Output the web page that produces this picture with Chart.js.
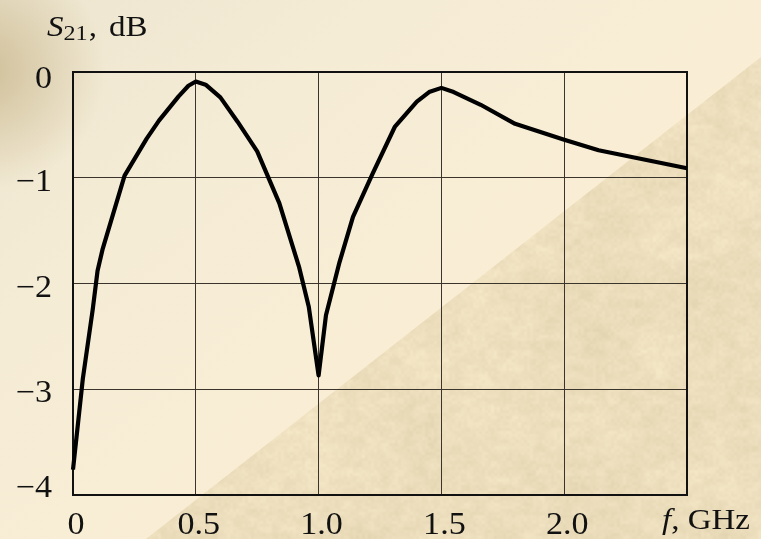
<!DOCTYPE html>
<html>
<head>
<meta charset="utf-8">
<script src="https://cdn.jsdelivr.net/npm/chart.js@4.4.1/dist/chart.umd.min.js"></script>
<style>
  html, body { margin: 0; padding: 0; overflow: hidden; background: #f6ecd3; }
  canvas { display: block; }
</style>
</head>
<body>
<canvas id="chart" width="761" height="539"></canvas>
<script>
// Transmission coefficient S21 of the filter versus frequency
const freqGHz = [0, 0.04, 0.08, 0.10, 0.12, 0.21, 0.30, 0.35, 0.43, 0.47, 0.50, 0.54, 0.60, 0.67, 0.75,
                 0.84, 0.92, 0.96, 1.00, 1.03, 1.085, 1.14, 1.22, 1.31, 1.40, 1.45, 1.50, 1.55, 1.66,
                 1.80, 2.00, 2.14, 2.50];
const s21dB   = [-3.76, -2.90, -2.25, -1.88, -1.68, -0.98, -0.63, -0.46, -0.23, -0.13, -0.09, -0.12, -0.24, -0.47, -0.75,
                 -1.24, -1.84, -2.22, -2.87, -2.30, -1.80, -1.37, -0.96, -0.52, -0.28, -0.19, -0.15, -0.19, -0.31,
                 -0.49, -0.64, -0.74, -0.91];

const xGridValues = [0, 0.5, 1.0, 1.5, 2.0, 2.5];
const xTickValues = [0, 0.5, 1.0, 1.5, 2.0];
const xTickLabels = ['0', '0.5', '1.0', '1.5', '2.0'];
const yTickValues = [0, -1, -2, -3, -4];
const yTickLabels = ['0', '\u22121', '\u22122', '\u22123', '\u22124'];

const SERIF = '"Liberation Serif", "Times New Roman", Times, serif';
const INK = '#111';
const STRETCH = 1.1;

// ---- parchment texture (deterministic value noise) ----
function hash(i, j) {
  const s = Math.sin(i * 127.1 + j * 311.7) * 43758.5453;
  return s - Math.floor(s);
}
function vnoise(x, y) {
  const i = Math.floor(x), j = Math.floor(y);
  const fx = x - i, fy = y - j;
  const ux = fx * fx * (3 - 2 * fx), uy = fy * fy * (3 - 2 * fy);
  const a = hash(i, j), b = hash(i + 1, j), c = hash(i, j + 1), d = hash(i + 1, j + 1);
  return a + (b - a) * ux + (c - a) * uy + (a - b - c + d) * ux * uy;
}
function makeParchment(w, h) {
  const cv = document.createElement('canvas');
  cv.width = w; cv.height = h;
  const cx = cv.getContext('2d');
  const img = cx.createImageData(w, h);
  for (let y = 0; y < h; y++) {
    for (let x = 0; x < w; x++) {
      const n = 0.35 * vnoise(x / 60, y / 60) + 0.35 * vnoise(x / 12 + 7, y / 8 + 3) + 0.3 * vnoise(x / 3 + 11, y / 3 + 5);
      const t = (n - 0.5);
      const k = (y * w + x) * 4;
      img.data[k]     = 236 + t * 22;
      img.data[k + 1] = 222 + t * 24;
      img.data[k + 2] = 188 + t * 28;
      img.data[k + 3] = 255;
    }
  }
  cx.putImageData(img, 0, 0);
  return cv;
}

const backdrop = {
  id: 'backdrop',
  beforeDraw(chart) {
    const { ctx, width, height } = chart;
    ctx.save();
    const lg = ctx.createLinearGradient(0, 0, width * 0.6, height);
    lg.addColorStop(0, '#ede5cf');
    lg.addColorStop(0.35, '#f5ecd6');
    lg.addColorStop(1, '#fcefd4');
    ctx.fillStyle = lg;
    ctx.fillRect(0, 0, width, height);
    const rg = ctx.createRadialGradient(-15, 70, 0, -15, 70, 120);
    rg.addColorStop(0, 'rgba(200,182,140,0.8)');
    rg.addColorStop(1, 'rgba(200,182,140,0)');
    ctx.fillStyle = rg;
    ctx.fillRect(0, 0, width, height);
    // lower-right parchment triangle
    if (!this.tex) this.tex = makeParchment(width, height);
    ctx.beginPath();
    ctx.moveTo(146, height);
    ctx.lineTo(width, 57);
    ctx.lineTo(width, height);
    ctx.closePath();
    ctx.clip();
    ctx.drawImage(this.tex, 0, 0);
    ctx.restore();
  }
};

const frame = {
  id: 'frame',
  beforeDatasetsDraw(chart) {
    const { ctx, chartArea: a } = chart;
    ctx.save();
    ctx.strokeStyle = '#111';
    ctx.lineWidth = 2;
    ctx.strokeRect(a.left, a.top, a.right - a.left, a.bottom - a.top);
    ctx.restore();
  }
};

function stretchedText(ctx, text, x, y, align) {
  const w = ctx.measureText(text).width * STRETCH;
  let x0 = x;
  if (align === 'right') x0 = x - w;
  else if (align === 'center') x0 = x - w / 2;
  ctx.save();
  ctx.translate(x0, y);
  ctx.scale(STRETCH, 1);
  ctx.textAlign = 'left';
  ctx.fillText(text, 0, 0);
  ctx.restore();
  return w;
}

const axisText = {
  id: 'axisText',
  afterDraw(chart) {
    const { ctx, scales: { x, y } } = chart;
    ctx.save();
    ctx.fillStyle = INK;
    ctx.textBaseline = 'middle';
    ctx.font = '31px ' + SERIF;
    yTickValues.forEach((v, i) => {
      let off = 5;
      if (v === y.max) off = 8;
      if (v === y.min) off = -6;
      stretchedText(ctx, yTickLabels[i], 52, y.getPixelForValue(v) + off, 'right');
    });
    ctx.textBaseline = 'alphabetic';
    xTickValues.forEach((v, i) => {
      stretchedText(ctx, xTickLabels[i], x.getPixelForValue(v) + 3, 534, 'center');
    });
    // x-axis name: f, GHz
    ctx.font = 'italic 30px ' + SERIF;
    let px = 662;
    px += stretchedText(ctx, 'f', px, 529, 'left');
    ctx.font = '30px ' + SERIF;
    stretchedText(ctx, ', GHz', px, 529, 'left');
    // y-axis name: S21, dB
    ctx.font = 'italic 30px ' + SERIF;
    px = 47;
    px += stretchedText(ctx, 'S', px, 36, 'left');
    ctx.font = '22px ' + SERIF;
    px += stretchedText(ctx, '21', px, 40, 'left');
    ctx.font = '30px ' + SERIF;
    px += stretchedText(ctx, ',', px + 1, 36, 'left');
    stretchedText(ctx, 'dB', px + 13, 36, 'left');
    ctx.restore();
  }
};

new Chart(document.getElementById('chart'), {
  type: 'line',
  data: {
    datasets: [{
      data: freqGHz.map((f, i) => ({ x: f, y: s21dB[i] })),
      borderColor: '#000',
      borderWidth: 4.2,
      pointRadius: 0,
      tension: 0,
      borderJoinStyle: 'round',
      borderCapStyle: 'butt',
      clip: false
    }]
  },
  options: {
    responsive: false,
    animation: false,
    devicePixelRatio: 1,
    layout: { padding: { left: 73, top: 72, right: 74, bottom: 44 } },
    plugins: { legend: { display: false }, tooltip: { enabled: false } },
    scales: {
      x: {
        type: 'linear', min: 0, max: 2.5,
        afterBuildTicks: s => { s.ticks = xGridValues.map(v => ({ value: v })); },
        afterFit: s => { s.height = 0; },
        ticks: { display: false },
        grid: { color: '#3a342c', lineWidth: 1, drawTicks: false },
        border: { display: false }
      },
      y: {
        type: 'linear', min: -4, max: 0,
        afterBuildTicks: s => { s.ticks = yTickValues.map(v => ({ value: v })); },
        afterFit: s => { s.width = 0; },
        ticks: { display: false },
        grid: { color: '#3a342c', lineWidth: 1, drawTicks: false },
        border: { display: false }
      }
    }
  },
  plugins: [backdrop, frame, axisText]
});
</script>
</body>
</html>
